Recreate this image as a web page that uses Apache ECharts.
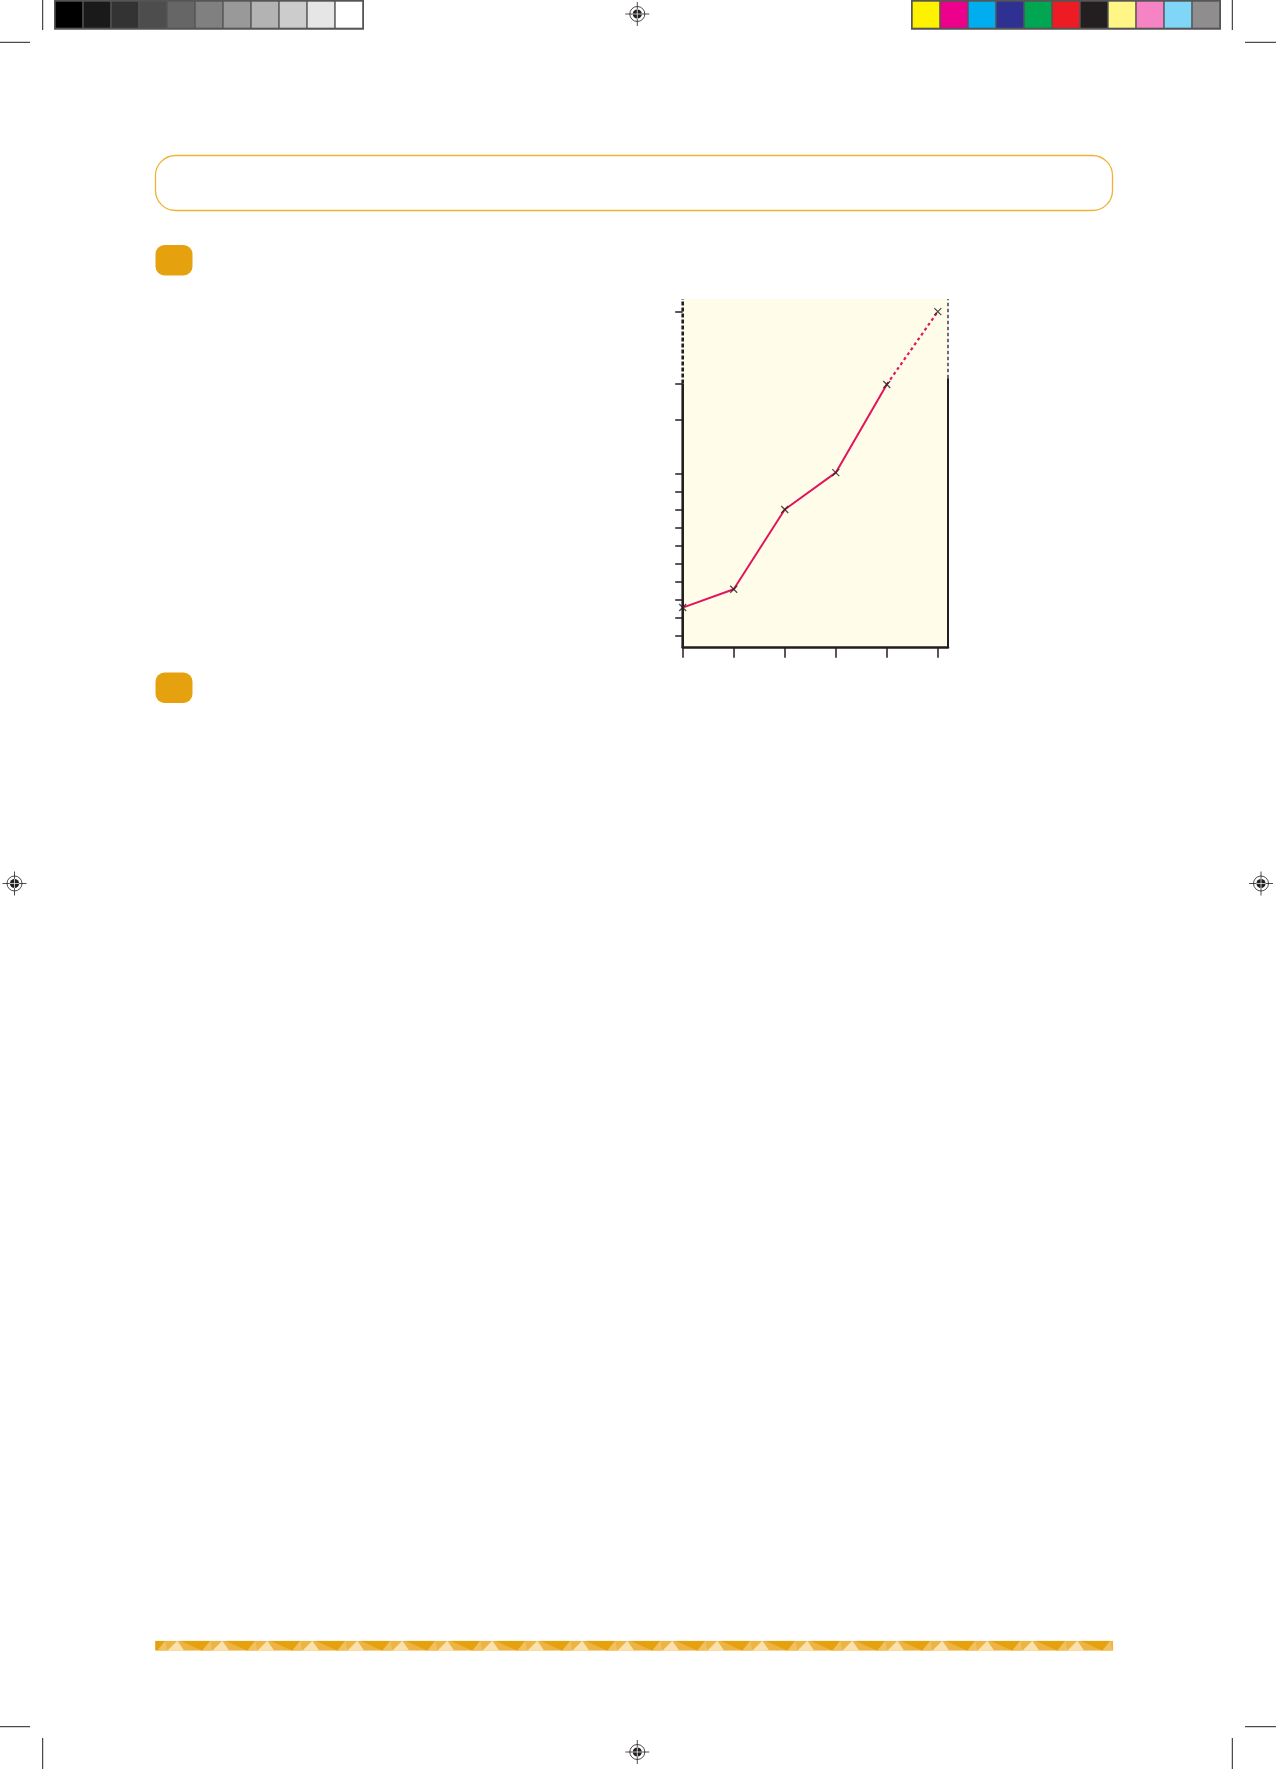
<!DOCTYPE html>
<html>
<head>
<meta charset="utf-8">
<title>chart</title>
<script src="https://cdn.jsdelivr.net/npm/echarts@6/dist/echarts.min.js"></script>
</head>
<body style="margin:0;background:#ffffff;">
<div id="main" style="width:1276px;height:1769px;"></div>
<script type="text/javascript">
    // data (y in units of the small tick step)
    var xTicks = [0, 1, 2, 3, 4, 5];
    var yValues = [2.55, 3.57, 8.0, 10.05, 14.95, 19.0];
    var yTickValues = [1, 2, 3, 4, 5, 6, 7, 8, 9, 10, 13, 15, 19];
    var yMin = 0.32, yMax = 19.7, xMax = 5.2;
    var breakAt = 15;     // axis is drawn dashed above this
    var dashedFrom = 4;   // last segment (from this index) is dashed

    var greys = ['#000000', '#1a1a1a', '#333333', '#4d4d4d', '#666666', '#808080',
        '#999999', '#b3b3b3', '#cccccc', '#e6e6e6', '#ffffff'];
    var inks = ['#fff200', '#ec008c', '#00aeef', '#2e3192', '#00a651', '#ed1c24',
        '#231f20', '#fff685', '#f684c4', '#7fd6f7', '#8f8d8e'];

    var ink = '#231f20';
    var orange = '#e5a10e';

    var myChart = echarts.init(document.getElementById('main'));

    // page furniture: colour bars, crop marks, registration marks, boxes
    var graphics = [];
    function swatchBar(x0, colors) {
        graphics.push({ type: 'rect', shape: { x: x0, y: 0, width: 310, height: 29.7 }, style: { fill: '#555555' } });
        colors.forEach(function (c, i) {
            graphics.push({ type: 'rect', shape: { x: x0 + 1.7 + i * 28, y: 1.7, width: 26.5, height: 26 }, style: { fill: c } });
        });
    }
    swatchBar(54, greys);
    swatchBar(911, inks);

    function line(x1, y1, x2, y2, w, c) {
        graphics.push({ type: 'line', shape: { x1: x1, y1: y1, x2: x2, y2: y2 }, style: { stroke: c || ink, lineWidth: w || 1 } });
    }
    // crop marks
    line(42.7, 0, 42.7, 30); line(0, 42.3, 30, 42.3);
    line(1232.3, 0, 1232.3, 30); line(1245, 42.3, 1276, 42.3);
    line(42.7, 1738, 42.7, 1769); line(0, 1726.7, 30, 1726.7);
    line(1232.3, 1738, 1232.3, 1769); line(1245, 1726.7, 1276, 1726.7);

    function regMark(cx, cy) {
        graphics.push({ type: 'circle', shape: { cx: cx, cy: cy, r: 7.5 }, style: { fill: 'none', stroke: ink, lineWidth: 0.8 } });
        graphics.push({ type: 'circle', shape: { cx: cx, cy: cy, r: 4.6 }, style: { fill: ink } });
        line(cx - 12, cy, cx - 4.6, cy, 0.8); line(cx + 4.6, cy, cx + 12, cy, 0.8);
        line(cx, cy - 12, cx, cy - 4.6, 0.8); line(cx, cy + 4.6, cx, cy + 12, 0.8);
        line(cx - 4.6, cy, cx + 4.6, cy, 0.7, '#ffffff');
        line(cx, cy - 4.6, cx, cy + 4.6, 0.7, '#ffffff');
    }
    regMark(637.3, 14);
    regMark(637.3, 1752);
    regMark(14.5, 883.5);
    regMark(1261, 883.5);

    // header box and numbered badges
    graphics.push({ type: 'rect', shape: { x: 155.5, y: 155.5, width: 957, height: 55, r: 20 },
        style: { fill: 'none', stroke: '#f0b232', lineWidth: 1.3 } });
    graphics.push({ type: 'rect', shape: { x: 155.5, y: 245, width: 37, height: 30.5, r: 9 }, style: { fill: orange } });
    graphics.push({ type: 'rect', shape: { x: 155.5, y: 672.5, width: 37, height: 30.5, r: 9 }, style: { fill: orange } });

    // footer zigzag band
    var bandL = 155.3, bandR = 1113.3, bandT = 1640.7, bandB = 1650.7, step = 45;
    var zig = [{ type: 'rect', shape: { x: bandL, y: bandT, width: bandR - bandL, height: bandB - bandT }, style: { fill: '#edb443' } }];
    for (var px = bandL; px < bandR + step; px += step) {
        zig.push({ type: 'polygon', shape: { points: [[px - 20, bandT], [px + 10, bandT], [px + 2, bandB]] }, style: { fill: orange } });
        zig.push({ type: 'polygon', shape: { points: [[px + 12, bandB], [px + 22, bandT], [px + 29, bandB]] }, style: { fill: '#f9e2ae' } });
        zig.push({ type: 'polygon', shape: { points: [[px + 2, bandB], [px + 10, bandT], [px + 12, bandB]] }, style: { fill: '#f1c160' } });
    }
    graphics.push({ type: 'group', children: zig,
        clipPath: { type: 'rect', shape: { x: bandL, y: bandT, width: bandR - bandL, height: bandB - bandT } } });

    // split the measured line into solid + dashed parts
    var solidData = [], dashedData = [];
    xTicks.forEach(function (x, i) {
        solidData.push(i <= dashedFrom ? [x, yValues[i]] : [x, null]);
        dashedData.push(i >= dashedFrom ? [x, yValues[i]] : [x, null]);
    });

    function edge(data, w, type) {
        return {
            type: 'line', data: data, symbol: 'none', silent: true, clip: false, z: 3,
            lineStyle: { color: ink, width: w, type: type || 'solid', cap: 'butt' }
        };
    }

    var cross = 'path://M0,0L10,10M10,0L0,10';

    var option = {
        animation: false,
        backgroundColor: '#ffffff',
        graphic: graphics,
        grid: {
            left: 682.7, top: 299, width: 265.3, height: 348.7,
            show: true, backgroundColor: '#fffdea', borderWidth: 0,
            outerBoundsMode: 'none'
        },
        xAxis: {
            type: 'value', min: 0, max: xMax, interval: 1,
            axisLine: { show: true, lineStyle: { color: ink, width: 2.6 } },
            axisTick: { show: true, length: 10, lineStyle: { color: ink, width: 1.5 }, customValues: xTicks },
            axisLabel: { show: false },
            splitLine: { show: false }
        },
        yAxis: {
            type: 'value', min: yMin, max: yMax,
            axisLine: { show: false },
            axisTick: { show: true, length: 7.5, lineStyle: { color: ink, width: 1.5 }, customValues: yTickValues },
            axisLabel: { show: false },
            splitLine: { show: false }
        },
        series: [
            edge([[0, yMin], [0, breakAt]], 2.6),
            edge([[0, breakAt], [0, yMax]], 2.6, [4, 2]),
            edge([[xMax, yMin], [xMax, breakAt + 0.3]], 2),
            edge([[xMax, breakAt + 0.3], [xMax, yMax]], 1.3, [3.5, 2.5]),
            {
                type: 'line', data: solidData, clip: false, z: 4,
                lineStyle: { color: '#e0155c', width: 2 },
                symbol: 'none'
            },
            {
                type: 'line', data: dashedData, clip: false, z: 4,
                lineStyle: { color: '#e0155c', width: 2.2, type: [3, 3] },
                symbol: 'none'
            },
            {
                type: 'scatter', data: xTicks.map(function (x, i) { return [x, yValues[i]]; }),
                symbol: cross, symbolSize: 7, clip: false, z: 5,
                itemStyle: { color: 'none', borderColor: ink, borderWidth: 1.3 }
            }
        ]
    };
    myChart.setOption(option);
</script>
</body>
</html>
